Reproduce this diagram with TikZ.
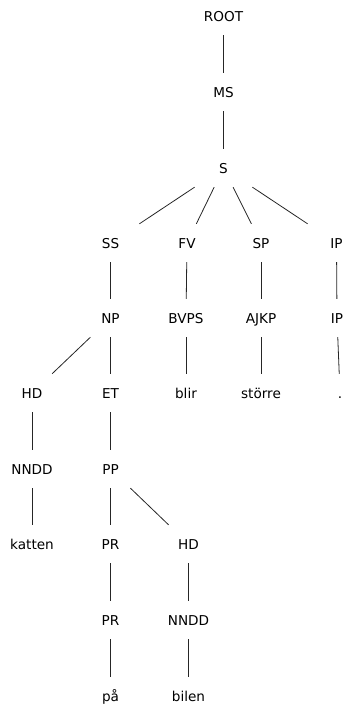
\documentclass[tikz,border=0pt]{standalone}
\usepackage{fontspec}
\setmainfont{DejaVu Sans}
\tikzset{
    cat/.style={minimum width=60pt, minimum height=38pt, inner sep=0pt,
        text height=10pt, text depth=0pt, font=\fontsize{13.6}{16}\selectfont},
    branch/.style={line width=0.8pt, black!85}
}

\begin{document}
\begin{tikzpicture}[x=1pt, y=-1pt]
        \useasboundingbox (0,0) rectangle (344,704);
        % spine
        \node[cat] (root) at (223.5,16)  {ROOT};
        \node[cat] (ms)   at (223.5,92)  {MS};
        \node[cat] (s)    at (223.5,168) {S};
        % clause level
        \node[cat] (ss)  at (110.5,243) {SS};
        \node[cat] (fv)  at (187,243)   {FV};
        \node[cat] (sp)  at (261,243)   {SP};
        \node[cat] (ip)  at (336.5,243) {IP};
        \node[cat] (np)   at (110.5,318) {NP};
        \node[cat] (bvps) at (186,318)   {BVPS};
        \node[cat] (ajkp) at (261,318)   {AJKP};
        \node[cat] (ipp)  at (337,318)   {IP};
        \node[cat] (hd)     at (32,393)    {HD};
        \node[cat] (et)     at (110.5,393) {ET};
        \node[cat] (blir)   at (186,393)   {blir};
        \node[cat] (storre) at (261,393)   {större};
        \node[cat] (dot)    at (340,393)   {.};
        \node[cat] (nndd) at (32,469)    {NNDD};
        \node[cat] (pp)   at (110.5,469) {PP};
        \node[cat] (katten) at (32,544)    {katten};
        \node[cat] (pr)     at (110.5,544) {PR};
        \node[cat] (hdb)    at (188.5,544) {HD};
        \node[cat] (prr)   at (110.5,620) {PR};
        \node[cat] (nnddb) at (188.5,620) {NNDD};
        \node[cat] (pa)    at (110.5,696) {på};
        \node[cat] (bilen) at (188.5,696) {bilen};
        % branches
        \draw[branch] (root) -- (ms);
        \draw[branch] (ms) -- (s);
        \foreach \kid in {ss,fv,sp,ip}
            \draw[branch] (s) -- (\kid);
        \draw[branch] (ss) -- (np);
        \draw[branch] (fv) -- (bvps);
        \draw[branch] (sp) -- (ajkp);
        \draw[branch] (ip) -- (ipp);
        \draw[branch] (np) -- (hd);
        \draw[branch] (np) -- (et);
        \draw[branch] (bvps) -- (blir);
        \draw[branch] (ajkp) -- (storre);
        \draw[branch] (ipp) -- (dot);
        \draw[branch] (hd) -- (nndd);
        \draw[branch] (et) -- (pp);
        \draw[branch] (nndd) -- (katten);
        \draw[branch] (pp) -- (pr);
        \draw[branch] (pp) -- (hdb);
        \draw[branch] (pr) -- (prr);
        \draw[branch] (hdb) -- (nnddb);
        \draw[branch] (prr) -- (pa);
        \draw[branch] (nnddb) -- (bilen);
    \end{tikzpicture}
\end{document}
